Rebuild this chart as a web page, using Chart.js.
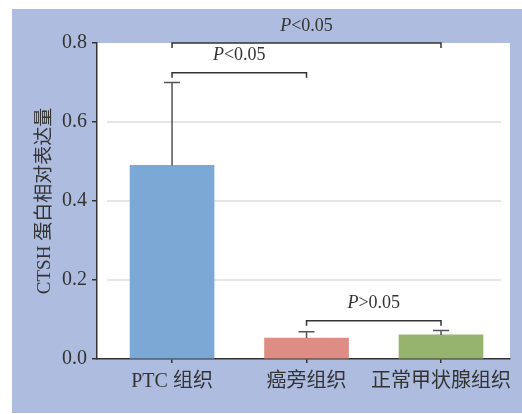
<!DOCTYPE html>
<html>
<head>
<meta charset="utf-8">
<script src="https://cdn.jsdelivr.net/npm/chart.js@4/dist/chart.umd.min.js"></script>
<style>
  html, body { margin: 0; padding: 0; background: #ffffff; }
  #wrap { width: 522px; height: 414px; position: relative; }
</style>
</head>
<body>
<div id="wrap"><canvas id="c" width="522" height="414"></canvas></div>
<script>
// Relative CTSH protein expression by tissue group (mean + upper SD)
const categories = ['PTC 组织', '癌旁组织', '正常甲状腺组织'];
const expression = [0.49, 0.053, 0.061];
const errorUpper = [0.21, 0.016, 0.011];
const barColors = ['#7ba8d4', '#dd8d83', '#97b46f'];
const yTicks = [0.0, 0.2, 0.4, 0.6, 0.8];
const gridValues = [0.2, 0.4, 0.6];

// Significance brackets between groups
const bracketFrom = [0, 0, 1];
const bracketTo = [1, 2, 2];
const bracketLevel = [0.725, 0.8, 0.097];
const bracketSign = ['<0.05', '<0.05', '>0.05'];

const SERIF = '"Liberation Serif", "Times New Roman", "Noto Sans CJK SC", serif';
const INK = '#333333';

const backdrop = {
  id: 'backdrop',
  beforeDraw(chart) {
    const { ctx, chartArea: a } = chart;
    ctx.save();
    ctx.fillStyle = '#ffffff';
    ctx.fillRect(0, 0, chart.width, chart.height);
    ctx.fillStyle = '#aebddf';
    ctx.fillRect(12, 9, chart.width - 12, chart.height - 10);
    ctx.fillStyle = '#ffffff';
    ctx.fillRect(a.left, a.top, a.right - a.left, a.bottom - a.top);
    ctx.restore();
  },
  beforeDatasetsDraw(chart) {
    const { ctx, chartArea: a, scales } = chart;
    ctx.save();
    ctx.strokeStyle = '#e6e6e6';
    ctx.lineWidth = 2;
    gridValues.forEach(v => {
      const y = Math.round(scales.y.getPixelForValue(v));
      ctx.beginPath();
      ctx.moveTo(a.left + 10, y);
      ctx.lineTo(a.right - 9, y);
      ctx.stroke();
    });
    ctx.restore();
  }
};

const errorBars = {
  id: 'errorBars',
  afterDatasetsDraw(chart) {
    const { ctx, scales } = chart;
    const meta = chart.getDatasetMeta(0);
    ctx.save();
    ctx.strokeStyle = '#555555';
    ctx.lineWidth = 1.5;
    meta.data.forEach((bar, i) => {
      const y0 = scales.y.getPixelForValue(expression[i]);
      const y1 = scales.y.getPixelForValue(expression[i] + errorUpper[i]);
      ctx.beginPath();
      ctx.moveTo(bar.x, y0);
      ctx.lineTo(bar.x, y1);
      ctx.moveTo(bar.x - 8, y1);
      ctx.lineTo(bar.x + 8, y1);
      ctx.stroke();
    });
    ctx.restore();
  }
};

const brackets = {
  id: 'brackets',
  afterDraw(chart) {
    const { ctx, scales } = chart;
    ctx.save();
    ctx.strokeStyle = INK;
    ctx.lineWidth = 1.5;
    ctx.fillStyle = INK;
    ctx.textBaseline = 'middle';
    bracketFrom.forEach((f, k) => {
      const x1 = scales.x.getPixelForValue(f);
      const x2 = scales.x.getPixelForValue(bracketTo[k]);
      const y = scales.y.getPixelForValue(bracketLevel[k]);
      ctx.beginPath();
      ctx.moveTo(x1, y + 5);
      ctx.lineTo(x1, y);
      ctx.lineTo(x2, y);
      ctx.lineTo(x2, y + 5);
      ctx.stroke();
      const italic = 'italic 18px ' + SERIF;
      const upright = '18px ' + SERIF;
      ctx.font = italic;
      const wP = ctx.measureText('P').width;
      ctx.font = upright;
      const wRest = ctx.measureText(bracketSign[k]).width;
      const start = (x1 + x2) / 2 - (wP + wRest) / 2;
      const ty = y - 17;
      ctx.textAlign = 'left';
      ctx.font = italic;
      ctx.fillText('P', start, ty);
      ctx.font = upright;
      ctx.fillText(bracketSign[k], start + wP, ty);
    });
    ctx.restore();
  }
};

new Chart(document.getElementById('c').getContext('2d'), {
  type: 'bar',
  data: {
    datasets: [{
      data: categories.map((c, i) => ({ x: i, y: expression[i] })),
      backgroundColor: barColors,
      borderWidth: 0,
      barThickness: 84
    }]
  },
  options: {
    responsive: false,
    animation: false,
    devicePixelRatio: 1,
    layout: { padding: { top: 43, right: 12, left: 0, bottom: 0 } },
    plugins: { legend: { display: false }, tooltip: { enabled: false } },
    scales: {
      x: {
        type: 'linear',
        min: -0.558,
        max: 2.513,
        offset: false,
        afterBuildTicks: s => { s.ticks = categories.map((c, i) => ({ value: i })); },
        afterFit: s => { s.height = 55; },
        ticks: {
          autoSkip: false,
          maxRotation: 0,
          padding: 7,
          color: INK,
          font: { family: SERIF, size: 20 },
          callback: v => categories[v]
        },
        grid: { drawOnChartArea: false, offset: false, tickLength: 4, color: INK, lineWidth: 1.5 },
        border: { color: INK, width: 1.5 }
      },
      y: {
        min: 0,
        max: 0.8,
        afterBuildTicks: s => { s.ticks = yTicks.map(v => ({ value: v })); },
        afterFit: s => { s.width = 97; },
        ticks: {
          padding: 5,
          color: INK,
          font: { family: SERIF, size: 20 },
          callback: v => Number(v).toFixed(1)
        },
        grid: { drawOnChartArea: false, tickLength: 5, color: INK, lineWidth: 1.5 },
        border: { color: INK, width: 1.5 },
        title: {
          display: true,
          text: 'CTSH 蛋白相对表达量',
          color: INK,
          font: { family: SERIF, size: 19 },
          padding: { top: 34, bottom: 0 }
        }
      }
    }
  },
  plugins: [backdrop, errorBars, brackets]
});
</script>
</body>
</html>
